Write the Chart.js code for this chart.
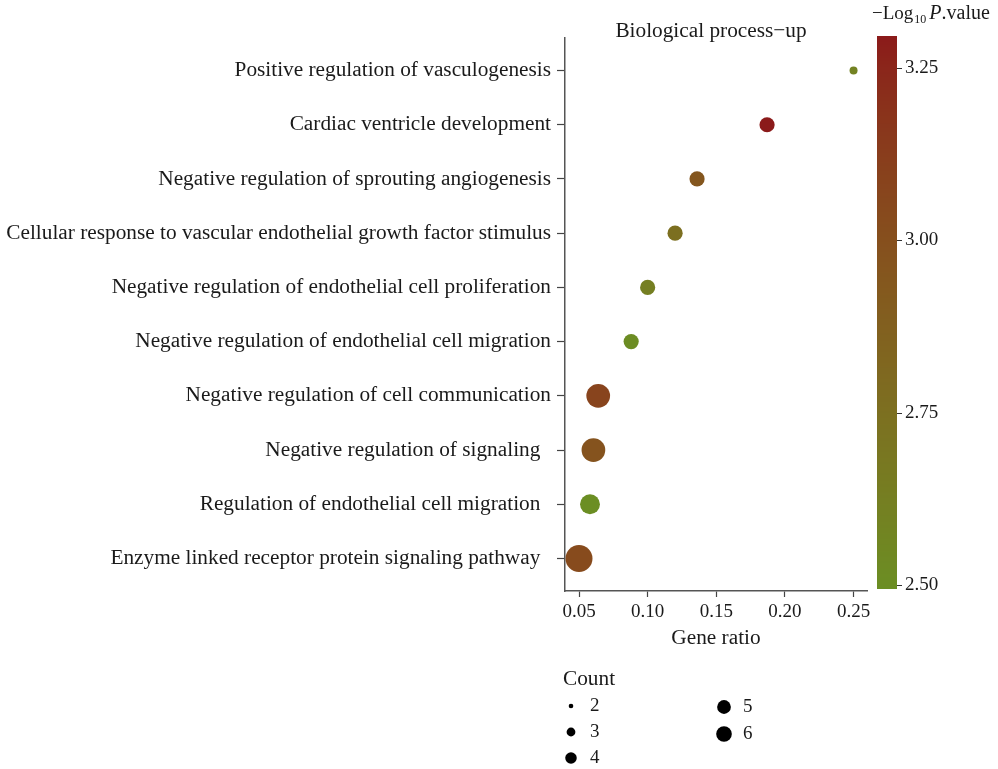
<!DOCTYPE html>
<html>
<head>
<meta charset="utf-8">
<script src="https://cdn.jsdelivr.net/npm/chart.js@4/dist/chart.umd.min.js"></script>
<style>
	body { margin: 0; background: #ffffff; }
</style>
</head>
<body>
<canvas id="chart" width="998" height="769"></canvas>
<script>
// GO terms, top to bottom as they appear on the chart
// (the last three keep a trailing gap, as in the original figure)
const categories = [
	"Positive regulation of vasculogenesis",
	"Cardiac ventricle development",
	"Negative regulation of sprouting angiogenesis",
	"Cellular response to vascular endothelial growth factor stimulus",
	"Negative regulation of endothelial cell proliferation",
	"Negative regulation of endothelial cell migration",
	"Negative regulation of cell communication",
	"Negative regulation of signaling\u2002",
	"Regulation of endothelial cell migration\u2002",
	"Enzyme linked receptor protein signaling pathway\u2002"
];
const geneRatio = [0.25, 0.187, 0.136, 0.12, 0.10, 0.088, 0.064, 0.0605, 0.058, 0.05];
const counts = [2, 3, 3, 3, 3, 3, 5, 5, 4, 6];
const logP = [2.60, 3.296, 2.95, 2.75, 2.62, 2.51, 3.08, 2.97, 2.494, 3.03];

const xTicks = [0.05, 0.10, 0.15, 0.20, 0.25];
const colorTicks = [2.50, 2.75, 3.00, 3.25];
const legendCounts = [2, 3, 4, 5, 6];

const FONT = '"Liberation Serif", "Times New Roman", serif';
const TEXT = "#1a1a1a";
const WORD_SIZE = 21.3;
const NUM_SIZE = 19;
const LOW = [107, 142, 35];   // olivedrab
const HIGH = [139, 26, 26];   // firebrick4

// colour ramp in Lab space, like ggplot's gradient
function toLinear(c) {
	c /= 255;
	return c <= 0.04045 ? c / 12.92 : Math.pow((c + 0.055) / 1.055, 2.4);
}
function fromLinear(c) {
	let v = c <= 0.0031308 ? 12.92 * c : 1.055 * Math.pow(c, 1 / 2.4) - 0.055;
	return Math.max(0, Math.min(255, Math.round(v * 255)));
}
function rgbToLab(rgb) {
	let r = toLinear(rgb[0]), g = toLinear(rgb[1]), b = toLinear(rgb[2]);
	let x = (0.4124 * r + 0.3576 * g + 0.1805 * b) / 0.95047;
	let y = (0.2126 * r + 0.7152 * g + 0.0722 * b);
	let z = (0.0193 * r + 0.1192 * g + 0.9505 * b) / 1.08883;
	let f = t => t > 0.008856 ? Math.cbrt(t) : 7.787 * t + 16 / 116;
	let fx = f(x), fy = f(y), fz = f(z);
	return [116 * fy - 16, 500 * (fx - fy), 200 * (fy - fz)];
}
function labToRgb(lab) {
	let fy = (lab[0] + 16) / 116;
	let fx = fy + lab[1] / 500;
	let fz = fy - lab[2] / 200;
	let inv = t => t * t * t > 0.008856 ? t * t * t : (t - 16 / 116) / 7.787;
	let x = inv(fx) * 0.95047, y = inv(fy), z = inv(fz) * 1.08883;
	let r = 3.2406 * x - 1.5372 * y - 0.4986 * z;
	let g = -0.9689 * x + 1.8758 * y + 0.0415 * z;
	let b = 0.0557 * x - 0.2040 * y + 1.0570 * z;
	return "rgb(" + fromLinear(r) + "," + fromLinear(g) + "," + fromLinear(b) + ")";
}
const lowLab = rgbToLab(LOW);
const highLab = rgbToLab(HIGH);
const cMin = Math.min(...logP);
const cMax = Math.max(...logP);

function colorFor(v) {
	let t = (v - cMin) / (cMax - cMin);
	t = Math.max(0, Math.min(1, t));
	return labToRgb(lowLab.map((l, i) => l + (highLab[i] - l) * t));
}

// area scaled point size
function radiusFor(count) {
	let rMin = 4, rMax = 13.5;
	let t = (count - 2) / 4;
	return Math.sqrt(rMin * rMin + t * (rMax * rMax - rMin * rMin));
}

const points = geneRatio.map((r, i) => ({x: r, y: categories.length - i}));

const extras = {
	id: "extras",
	afterDraw(chart) {
		let ctx = chart.ctx;
		let area = chart.chartArea;
		ctx.save();
		ctx.fillStyle = TEXT;

		// panel title
		ctx.font = WORD_SIZE + "px " + FONT;
		ctx.textAlign = "center";
		ctx.textBaseline = "middle";
		ctx.fillText("Biological process\u2212up", (area.left + area.right) / 2 - 5, 31);

		// colour bar
		let barX = 877, barW = 20, barTop = 36, barBottom = 589;
		let vTop = 3.25 + (68 - barTop) / 690;
		let vBottom = 2.50 - (barBottom - 585) / 690;
		let yOf = v => barBottom - (v - vBottom) / (vTop - vBottom) * (barBottom - barTop);
		for (let y = barTop; y < barBottom; y++) {
			let v = vTop - (y - barTop + 0.5) / (barBottom - barTop) * (vTop - vBottom);
			ctx.fillStyle = colorFor(v);
			ctx.fillRect(barX, y, barW, 1);
		}
		ctx.strokeStyle = "#333";
		ctx.lineWidth = 1;
		ctx.fillStyle = TEXT;
		ctx.font = NUM_SIZE + "px " + FONT;
		ctx.textAlign = "left";
		ctx.textBaseline = "middle";
		colorTicks.forEach(v => {
			let y = Math.round(yOf(v)) + 0.5;
			ctx.beginPath();
			ctx.moveTo(barX + barW, y);
			ctx.lineTo(barX + barW + 5, y);
			ctx.stroke();
			ctx.fillText(v.toFixed(2), barX + barW + 8, y);
		});

		// colour bar title
		ctx.textBaseline = "alphabetic";
		let tx = 872;
		ctx.font = "19px " + FONT;
		ctx.fillText("\u2212Log", tx, 19);
		tx += ctx.measureText("\u2212Log").width + 1;
		ctx.font = "12px " + FONT;
		ctx.fillText("10", tx, 23);
		tx += ctx.measureText("10").width + 3;
		ctx.font = "italic 20px " + FONT;
		ctx.fillText("P", tx, 19);
		tx += ctx.measureText("P").width;
		ctx.font = "20px " + FONT;
		ctx.fillText(".value", tx, 19);

		// size legend
		ctx.textBaseline = "middle";
		ctx.font = WORD_SIZE + "px " + FONT;
		ctx.fillText("Count", 563, 679);
		ctx.font = NUM_SIZE + "px " + FONT;
		let slots = [[571, 706], [571, 732], [571, 758], [724, 707], [724, 734]];
		legendCounts.forEach((c, i) => {
			let s = slots[i];
			ctx.fillStyle = "#000";
			ctx.beginPath();
			ctx.arc(s[0], s[1], radiusFor(c) * 0.58, 0, Math.PI * 2);
			ctx.fill();
			ctx.fillStyle = TEXT;
			ctx.fillText(String(c), s[0] + 19, s[1]);
		});
		ctx.restore();
	}
};

new Chart(document.getElementById("chart"), {
	type: "scatter",
	data: {
		datasets: [{
			data: points,
			pointRadius: ctx => radiusFor(counts[ctx.dataIndex]),
			pointHoverRadius: ctx => radiusFor(counts[ctx.dataIndex]),
			pointBackgroundColor: ctx => colorFor(logP[ctx.dataIndex]),
			pointBorderWidth: 0,
			borderWidth: 0
		}]
	},
	options: {
		responsive: false,
		animation: false,
		layout: {padding: {top: 38, right: 131, bottom: 118, left: 0}},
		plugins: {
			legend: {display: false},
			tooltip: {enabled: false}
		},
		scales: {
			x: {
				type: "linear",
				min: 0.0398,
				max: 0.2598,
				afterBuildTicks: scale => {
					scale.ticks = xTicks.map(v => ({value: v}));
				},
				afterFit: scale => {
					scale.height = 60;
				},
				ticks: {
					callback: v => v.toFixed(2),
					color: TEXT,
					font: {family: FONT, size: NUM_SIZE},
					padding: 4,
					maxRotation: 0
				},
				grid: {drawOnChartArea: false, tickLength: 6, color: "#444", tickWidth: 1.2},
				border: {display: true, color: "#555", width: 1.5},
				title: {
					display: true,
					text: "Gene ratio",
					color: TEXT,
					font: {family: FONT, size: WORD_SIZE},
					padding: {top: 0, bottom: 0}
				}
			},
			y: {
				type: "linear",
				min: 0.4,
				max: 10.6,
				afterBuildTicks: scale => {
					scale.ticks = categories.map((c, i) => ({value: categories.length - i}));
				},
				afterFit: scale => {
					scale.width = 565;
				},
				ticks: {
					callback: v => categories[categories.length - v],
					color: TEXT,
					font: {family: FONT, size: WORD_SIZE},
					padding: 6,
					autoSkip: false
				},
				grid: {drawOnChartArea: false, tickLength: 8, color: "#444", tickWidth: 1.2},
				border: {display: true, color: "#555", width: 1.5}
			}
		}
	},
	plugins: [extras]
});
</script>
</body>
</html>
